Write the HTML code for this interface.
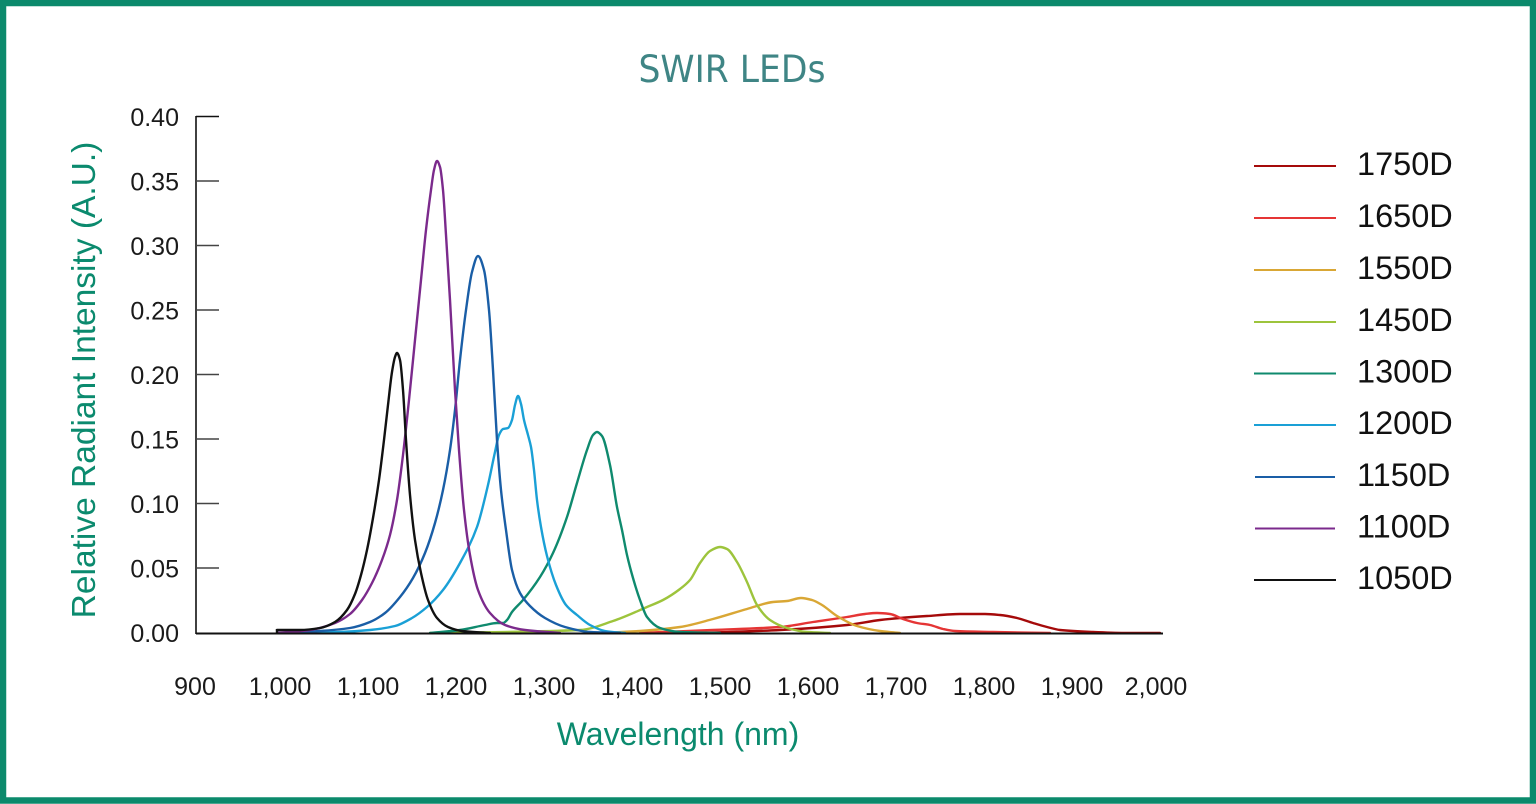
<!DOCTYPE html>
<html>
<head>
<meta charset="utf-8">
<style>
  html,body{margin:0;padding:0;background:#fff;}
  body{width:1536px;height:804px;overflow:hidden;}
  svg{display:block;}
  text{font-family:"Liberation Sans",Arial,sans-serif;}
</style>
</head>
<body>
<svg id="chart" width="1536" height="804" viewBox="0 0 1536 804" xmlns="http://www.w3.org/2000/svg">
  <rect x="0" y="0" width="1536" height="804" fill="#ffffff"/>
  <rect x="3" y="3" width="1530" height="797.5" fill="none" stroke="#0b8a6c" stroke-width="6.5"/>

  <text x="732" y="82" text-anchor="middle" font-size="37" fill="#3f8585" textLength="187" lengthAdjust="spacingAndGlyphs" style="font-family:'DejaVu Sans','Liberation Sans',sans-serif;">SWIR LEDs</text>

  <line x1="196" y1="116" x2="196" y2="634" stroke="#111" stroke-width="1.6"/>
  <g stroke="#444" stroke-width="1.6">
    <line x1="196" y1="116.5" x2="219" y2="116.5" stroke="#111"/>
    <line x1="196" y1="181" x2="219" y2="181"/>
    <line x1="196" y1="245.5" x2="219" y2="245.5"/>
    <line x1="196" y1="310" x2="219" y2="310"/>
    <line x1="196" y1="374.5" x2="219" y2="374.5"/>
    <line x1="196" y1="439" x2="219" y2="439"/>
    <line x1="196" y1="503.5" x2="219" y2="503.5"/>
    <line x1="196" y1="568" x2="219" y2="568"/>
  </g>
  <g font-size="25" fill="#1a1a1a" text-anchor="end">
    <text x="179" y="126">0.40</text>
    <text x="179" y="190.5">0.35</text>
    <text x="179" y="255">0.30</text>
    <text x="179" y="319.5">0.25</text>
    <text x="179" y="384">0.20</text>
    <text x="179" y="448.5">0.15</text>
    <text x="179" y="513">0.10</text>
    <text x="179" y="577.5">0.05</text>
    <text x="179" y="642">0.00</text>
  </g>

  <g font-size="25" fill="#1a1a1a" text-anchor="middle">
    <text x="195" y="695">900</text>
    <text x="280" y="695">1,000</text>
    <text x="368" y="695">1,100</text>
    <text x="456" y="695">1,200</text>
    <text x="544" y="695">1,300</text>
    <text x="632" y="695">1,400</text>
    <text x="720" y="695">1,500</text>
    <text x="808" y="695">1,600</text>
    <text x="896" y="695">1,700</text>
    <text x="984" y="695">1,800</text>
    <text x="1072" y="695">1,900</text>
    <text x="1156" y="695">2,000</text>
  </g>

  <text x="678" y="745" text-anchor="middle" font-size="32" fill="#0b8a6e">Wavelength (nm)</text>
  <text transform="translate(95,380) rotate(-90)" text-anchor="middle" font-size="33.5" fill="#0b8a6e">Relative Radiant Intensity (A.U.)</text>

  <g fill="none" stroke-width="2.4" stroke-linejoin="round" stroke-linecap="round" id="series">
    <polyline stroke="#a50a0a" points="700,633 780,630 847,625 880,620 900,618 927,616 960,614 985,614 1000,615 1017,618 1033,623 1047,627 1060,630 1093,632 1127,633 1160,633"/>
    <polyline stroke="#e53535" points="640,633 713,630 780,627 813,622 847,617 865,614 877,613 890,614 903,619 917,623 930,625 943,629 955,631 993,632 1050,633"/>
    <polyline stroke="#d9a735" points="600,633 640,631 680,627 713,619 747,609 773,602 787,601 801,598 812,600 822,605 837,616 857,626 880,631 900,633"/>
    <polyline stroke="#9dc43c" points="430,633 580,630 613,621 647,607 663,600 680,589 690,580 700,563 710,551 720,547 727,549 737,562 747,582 757,605 770,620 787,628 807,632 830,633"/>
    <polyline stroke="#0f8a6e" points="430,633 460,630 485,625 497,623 503,623 507,620 512,612 523,600 540,577 553,553 567,517 577,483 587,450 593,435 597,432 602,436 610,465 617,507 622,530 627,555 633,578 640,600 647,617 660,628 680,632 720,633"/>
    <polyline stroke="#1aa0d6" points="300,633 340,632 370,630 395,626 412,618 427,607 443,590 460,563 477,527 488,485 495,452 499,435 503,429 508,428 512,420 515,405 518,396 521,404 524,420 528,435 531,447 534,470 537,500 541,527 547,556 556,585 566,605 577,615 590,625 605,631 625,633"/>
    <polyline stroke="#1a5ea6" points="277,633 320,631 350,628 370,622 385,613 400,597 413,578 425,553 435,523 443,490 450,450 455,410 460,360 466,310 472,272 478,256 484,270 489,310 493,370 497,440 501,490 506,530 512,570 520,593 530,606 545,618 565,627 590,632 620,633"/>
    <polyline stroke="#7b2a8c" points="277,633 310,630 335,623 350,614 362,600 372,583 382,560 390,535 397,500 403,455 409,400 415,340 421,280 426,230 431,190 434,170 437,161 440,167 443,190 446,235 450,300 455,390 459,450 464,510 470,555 478,590 490,613 505,625 525,630 560,633"/>
    <polyline stroke="#111111" points="277,630 300,630 320,628 335,622 347,610 355,594 361,575 367,550 373,518 379,480 384,440 388,405 392,372 395,357 397,353 400,360 403,390 406,440 410,495 415,540 421,573 428,600 437,618 448,627 462,631 490,633"/>
  </g>
  <line x1="277" y1="633" x2="277" y2="629" stroke="#111" stroke-width="2.4"/>

  <line x1="196" y1="633.5" x2="1163" y2="633.5" stroke="#111" stroke-width="2"/>

  <g stroke-width="2">
    <line x1="1254" y1="166" x2="1336" y2="166" stroke="#a50a0a"/>
    <line x1="1254" y1="218" x2="1336" y2="218" stroke="#e53535"/>
    <line x1="1254" y1="270" x2="1336" y2="270" stroke="#d9a735"/>
    <line x1="1254" y1="322" x2="1336" y2="322" stroke="#9dc43c"/>
    <line x1="1254" y1="373.5" x2="1336" y2="373.5" stroke="#0f8a6e"/>
    <line x1="1254" y1="425" x2="1336" y2="425" stroke="#1aa0d6"/>
    <line x1="1255" y1="477" x2="1335" y2="477" stroke="#1a5ea6"/>
    <line x1="1255" y1="528.5" x2="1335" y2="528.5" stroke="#7b2a8c"/>
    <line x1="1254" y1="580" x2="1336" y2="580" stroke="#111111"/>
  </g>
  <g font-size="32.5" fill="#111">
    <text x="1357" y="175">1750D</text>
    <text x="1357" y="227">1650D</text>
    <text x="1357" y="279">1550D</text>
    <text x="1357" y="331">1450D</text>
    <text x="1357" y="382.5">1300D</text>
    <text x="1357" y="434">1200D</text>
    <text x="1357" y="486">1150D</text>
    <text x="1357" y="537.5">1100D</text>
    <text x="1357" y="589">1050D</text>
  </g>
</svg>
<script>
(function(){
  var NS="http://www.w3.org/2000/svg";
  var g=document.getElementById("series");
  var pls=Array.prototype.slice.call(g.querySelectorAll("polyline"));
  pls.forEach(function(pl){
    var pts=pl.getAttribute("points").trim().split(/\s+/).map(function(s){var a=s.split(",");return [parseFloat(a[0]),parseFloat(a[1])];});
    var n=pts.length,i;
    var dx=[],dy=[],m=[],t=[];
    for(i=0;i<n-1;i++){dx[i]=pts[i+1][0]-pts[i][0];dy[i]=pts[i+1][1]-pts[i][1];m[i]=dy[i]/dx[i];}
    t[0]=m[0];t[n-1]=m[n-2];
    for(i=1;i<n-1;i++){
      if(m[i-1]*m[i]<=0){t[i]=0;}
      else{
        var w1=2*dx[i]+dx[i-1],w2=dx[i]+2*dx[i-1];
        t[i]=(w1+w2)/(w1/m[i-1]+w2/m[i]);
      }
    }
    var d="M"+pts[0][0]+","+pts[0][1];
    for(i=0;i<n-1;i++){
      var h=dx[i]/3;
      d+=" C"+(pts[i][0]+h).toFixed(2)+","+(pts[i][1]+t[i]*h).toFixed(2)+" "+(pts[i+1][0]-h).toFixed(2)+","+(pts[i+1][1]-t[i+1]*h).toFixed(2)+" "+pts[i+1][0]+","+pts[i+1][1];
    }
    var path=document.createElementNS(NS,"path");
    path.setAttribute("d",d);
    path.setAttribute("stroke",pl.getAttribute("stroke"));
    g.replaceChild(path,pl);
  });
})();
</script>
</body>
</html>
